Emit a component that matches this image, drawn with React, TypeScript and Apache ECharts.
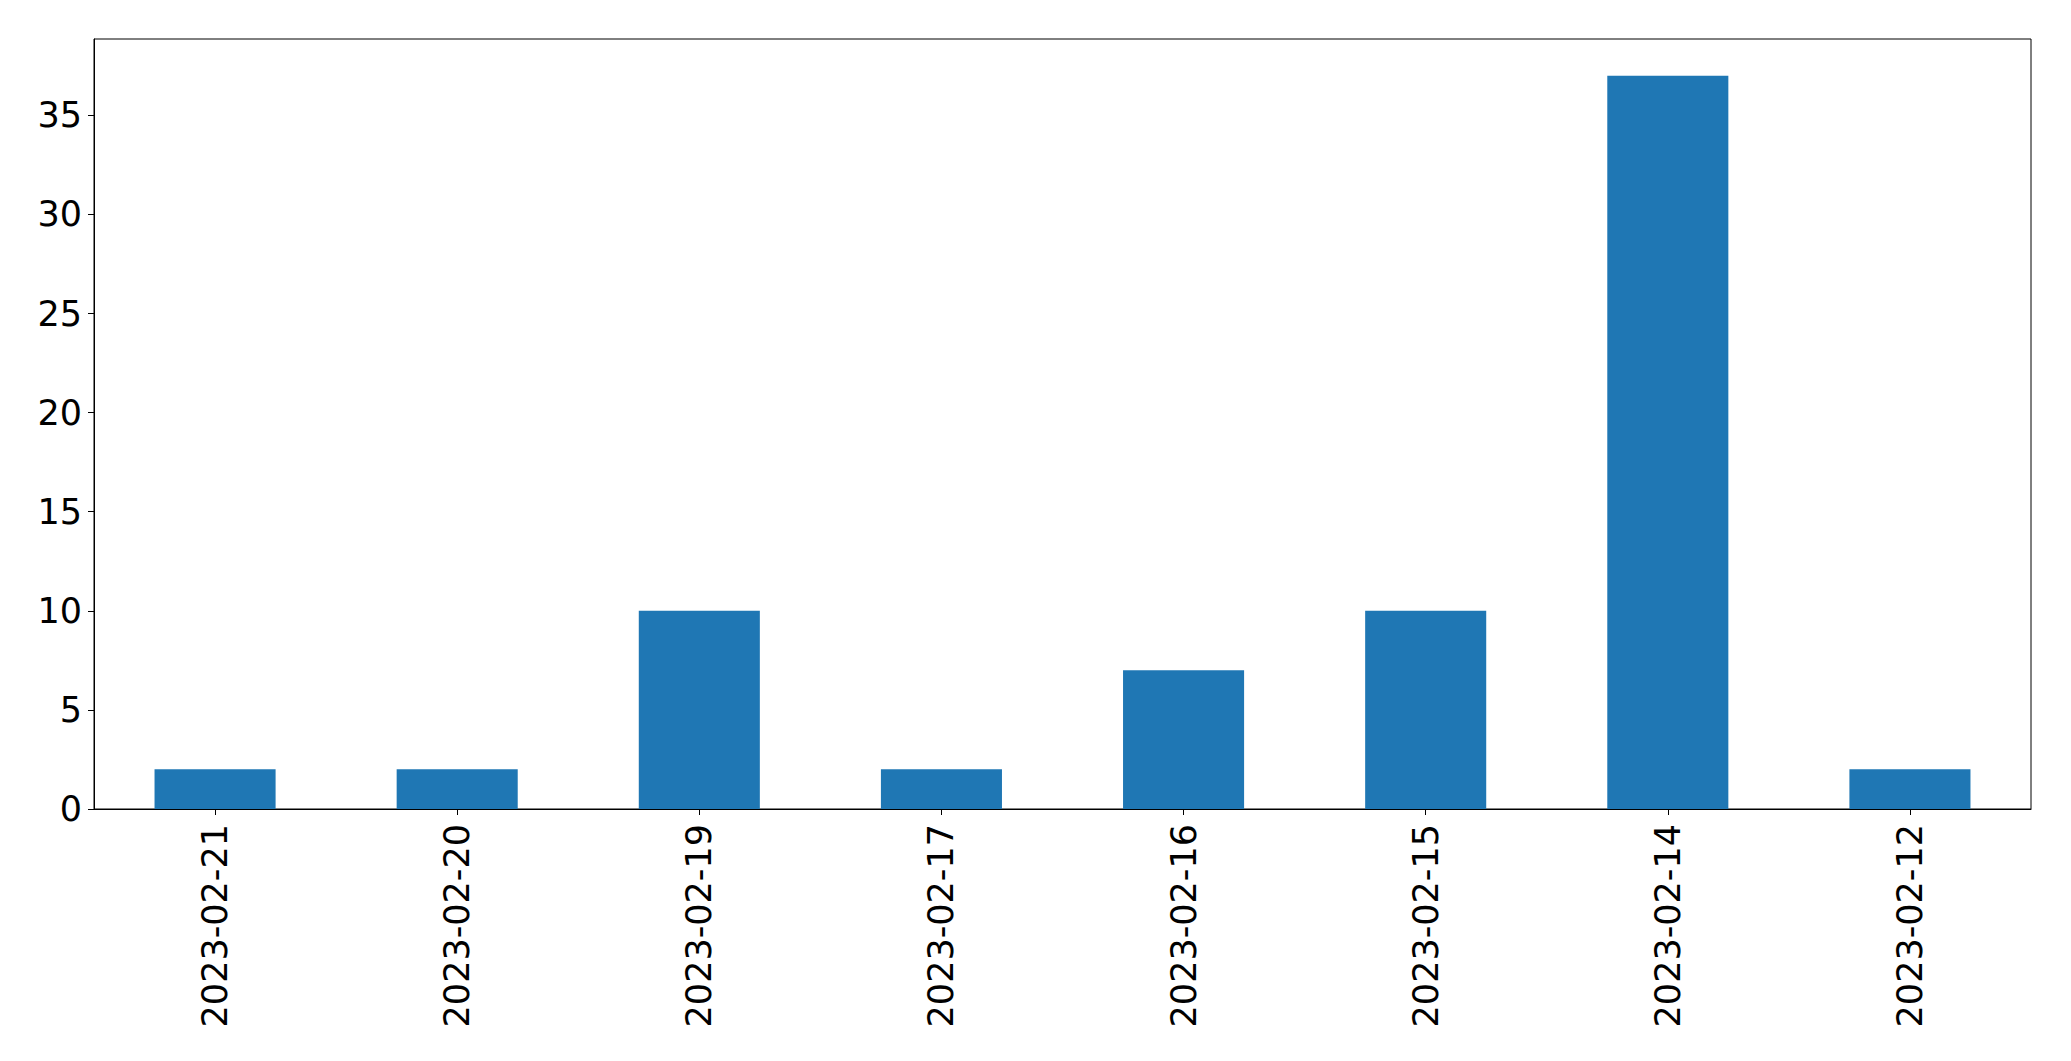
import React, { useEffect, useRef } from "react";
import * as echarts from "echarts";

const categories = ["2023-02-21", "2023-02-20", "2023-02-19", "2023-02-17", "2023-02-16", "2023-02-15", "2023-02-14", "2023-02-12"];
const counts = [2, 2, 10, 2, 7, 10, 37, 2];
const yTicks = [0, 5, 10, 15, 20, 25, 30, 35];

export default function App() {
  const ref = useRef<HTMLDivElement>(null);
  useEffect(() => {
    if (!ref.current) return;
    const chart = echarts.init(ref.current, null, { renderer: "svg" });
    const yMax = Math.max(...counts) * 1.05;
    chart.setOption({
      animation: false,
      backgroundColor: "#ffffff",
      grid: {
        left: 94,
        top: 39,
        right: 40,
        bottom: 252,
        show: true,
        borderColor: "#000000",
        borderWidth: 1,
        containLabel: false,
      },
      xAxis: {
        type: "category",
        data: categories,
        boundaryGap: true,
        axisLine: { show: true, lineStyle: { color: "#000000", width: 1 } },
        axisTick: { show: true, alignWithLabel: true, length: 6, lineStyle: { color: "#000000", width: 1 } },
        axisLabel: {
          rotate: 90,
          interval: 0,
          margin: 15,
          color: "#000000",
          fontSize: 35,
          fontFamily: "DejaVu Sans",
        },
        splitLine: { show: false },
      },
      yAxis: {
        type: "value",
        min: 0,
        max: yMax,
        interval: 5,
        axisLine: { show: true, lineStyle: { color: "#000000", width: 1 } },
        axisTick: { show: true, length: 6, customValues: yTicks, lineStyle: { color: "#000000", width: 1 } },
        axisLabel: {
          customValues: yTicks,
          margin: 12,
          color: "#000000",
          fontSize: 35,
          fontFamily: "DejaVu Sans",
        },
        splitLine: { show: false },
      },
      series: [
        {
          type: "bar",
          data: counts,
          barWidth: "50%",
          itemStyle: { color: "#1f77b4" },
        },
      ],
    });
    return () => chart.dispose();
  }, []);
  return (
    <div
      ref={ref}
      style={{ position: "fixed", left: 0, top: 0, width: 2071, height: 1061, background: "#ffffff" }}
    />
  );
}
